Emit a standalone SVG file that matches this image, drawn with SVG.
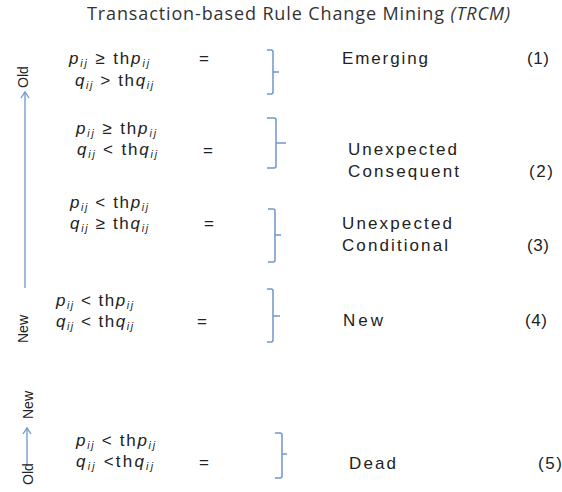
<svg xmlns="http://www.w3.org/2000/svg" width="562" height="492" viewBox="0 0 562 492">
<style>
.t{font-family:"Liberation Sans",Arial,sans-serif;fill:#222;}
.title{font-family:"Open Sans","Liberation Sans",sans-serif;font-size:18px;fill:#333;}
.lbl{font-size:17px;}
.f{font-family:"Liberation Sans",Arial,sans-serif;font-size:17px;fill:#222;}
.v{font-style:italic;}
.s{font-style:italic;font-size:10.5px;}
.eq{font-family:"Liberation Sans",Arial,sans-serif;font-size:17px;fill:#222;}
.ax{font-family:"Liberation Sans",sans-serif;font-size:14px;fill:#222;}
.br{fill:none;stroke:#6F97CC;stroke-width:1.5;}
.arr{fill:none;stroke:#6F97CC;stroke-width:1.3;}
</style>
<rect width="562" height="492" fill="#fff"/>
<text class="title" x="87" y="20" textLength="423" lengthAdjust="spacing">Transaction-based Rule Change Mining <tspan font-style="italic">(TRCM)</tspan></text>

<g id="axes">
<g id="axis-top" class="arr">
<line x1="25" y1="92" x2="25" y2="288"/>
<polyline points="21,98 25,92 29,98"/>
</g>
<text class="ax" transform="translate(28,77) rotate(-90)" text-anchor="middle">Old</text>
<text class="ax" transform="translate(28,329) rotate(-90)" text-anchor="middle">New</text>
<g id="axis-bottom" class="arr">
<line x1="27" y1="428" x2="27" y2="465"/>
<polyline points="23,434 27,428 31,434"/>
</g>
<text class="ax" transform="translate(33,405) rotate(-90)" text-anchor="middle">New</text>
<text class="ax" transform="translate(33,474) rotate(-90)" text-anchor="middle">Old</text>
</g>

<g id="connectors">
<path class="br" d="M267,50 H271 Q273,50 273,52 V92 Q273,94 271,94 H267 M273,72 H279"/>
<path class="br" d="M267,118 H274 Q276,118 276,120 V166 Q276,168 274,168 H267 M276,143 H286"/>
<path class="br" d="M268,209 H273 Q275,209 275,211 V260 Q275,262 273,262 H268 M275,235 H281"/>
<path class="br" d="M267,289 H271 Q273,289 273,291 V340 Q273,342 271,342 H267 M273,316 H280"/>
<path class="br" d="M275,433 H280 Q282,433 282,435 V476 Q282,478 280,478 H275 M282,454 H287"/>
</g>

<g id="rule1">
<text class="f" x="69" y="64" textLength="80" lengthAdjust="spacing"><tspan class="v">p</tspan><tspan class="s" dy="3">ij</tspan><tspan dy="-3"> ≥ th</tspan><tspan class="v">p</tspan><tspan class="s" dy="3">ij</tspan></text>
<text class="f" x="75" y="86" textLength="78" lengthAdjust="spacing"><tspan class="v">q</tspan><tspan class="s" dy="3">ij</tspan><tspan dy="-3"> &gt; th</tspan><tspan class="v">q</tspan><tspan class="s" dy="3">ij</tspan></text>
<text class="eq" x="199" y="64">=</text>
<text class="t lbl" x="342" y="64" textLength="86" lengthAdjust="spacing">Emerging</text>
<text class="t lbl" x="527" y="64" textLength="22" lengthAdjust="spacing">(1)</text>
</g>

<g id="rule2">
<text class="f" x="76" y="134" textLength="80" lengthAdjust="spacing"><tspan class="v">p</tspan><tspan class="s" dy="3">ij</tspan><tspan dy="-3"> ≥ th</tspan><tspan class="v">p</tspan><tspan class="s" dy="3">ij</tspan></text>
<text class="f" x="77" y="155" textLength="80" lengthAdjust="spacing"><tspan class="v">q</tspan><tspan class="s" dy="3">ij</tspan><tspan dy="-3"> &lt; th</tspan><tspan class="v">q</tspan><tspan class="s" dy="3">ij</tspan></text>
<text class="eq" x="203" y="156">=</text>
<text class="t lbl" x="348" y="155" textLength="109" lengthAdjust="spacing">Unexpected</text>
<text class="t lbl" x="348" y="177" textLength="111" lengthAdjust="spacing">Consequent</text>
<text class="t lbl" x="529" y="177" textLength="24" lengthAdjust="spacing">(2)</text>
</g>

<g id="rule3">
<text class="f" x="70" y="208" textLength="78" lengthAdjust="spacing"><tspan class="v">p</tspan><tspan class="s" dy="3">ij</tspan><tspan dy="-3"> &lt; th</tspan><tspan class="v">p</tspan><tspan class="s" dy="3">ij</tspan></text>
<text class="f" x="70" y="229" textLength="78" lengthAdjust="spacing"><tspan class="v">q</tspan><tspan class="s" dy="3">ij</tspan><tspan dy="-3"> ≥ th</tspan><tspan class="v">q</tspan><tspan class="s" dy="3">ij</tspan></text>
<text class="eq" x="204" y="229">=</text>
<text class="t lbl" x="342" y="229" textLength="110" lengthAdjust="spacing">Unexpected</text>
<text class="t lbl" x="342" y="251" textLength="106" lengthAdjust="spacing">Conditional</text>
<text class="t lbl" x="527" y="251" textLength="22" lengthAdjust="spacing">(3)</text>
</g>

<g id="rule4">
<text class="f" x="56" y="306" textLength="77" lengthAdjust="spacing"><tspan class="v">p</tspan><tspan class="s" dy="3">ij</tspan><tspan dy="-3"> &lt; th</tspan><tspan class="v">p</tspan><tspan class="s" dy="3">ij</tspan></text>
<text class="f" x="56" y="327" textLength="77" lengthAdjust="spacing"><tspan class="v">q</tspan><tspan class="s" dy="3">ij</tspan><tspan dy="-3"> &lt; th</tspan><tspan class="v">q</tspan><tspan class="s" dy="3">ij</tspan></text>
<text class="eq" x="197" y="327">=</text>
<text class="t lbl" x="343" y="326" textLength="40" lengthAdjust="spacing">New</text>
<text class="t lbl" x="525" y="326" textLength="22" lengthAdjust="spacing">(4)</text>
</g>

<g id="rule5">
<text class="f" x="76" y="446" textLength="79" lengthAdjust="spacing"><tspan class="v">p</tspan><tspan class="s" dy="3">ij</tspan><tspan dy="-3"> &lt; th</tspan><tspan class="v">p</tspan><tspan class="s" dy="3">ij</tspan></text>
<text class="f" x="76" y="467" textLength="77" lengthAdjust="spacing"><tspan class="v">q</tspan><tspan class="s" dy="3">ij</tspan><tspan dy="-3"> &lt;th</tspan><tspan class="v">q</tspan><tspan class="s" dy="3">ij</tspan></text>
<text class="eq" x="199" y="468">=</text>
<text class="t lbl" x="349" y="469" textLength="47" lengthAdjust="spacing">Dead</text>
<text class="t lbl" x="538" y="469" textLength="24" lengthAdjust="spacing">(5)</text>
</g>
</svg>
